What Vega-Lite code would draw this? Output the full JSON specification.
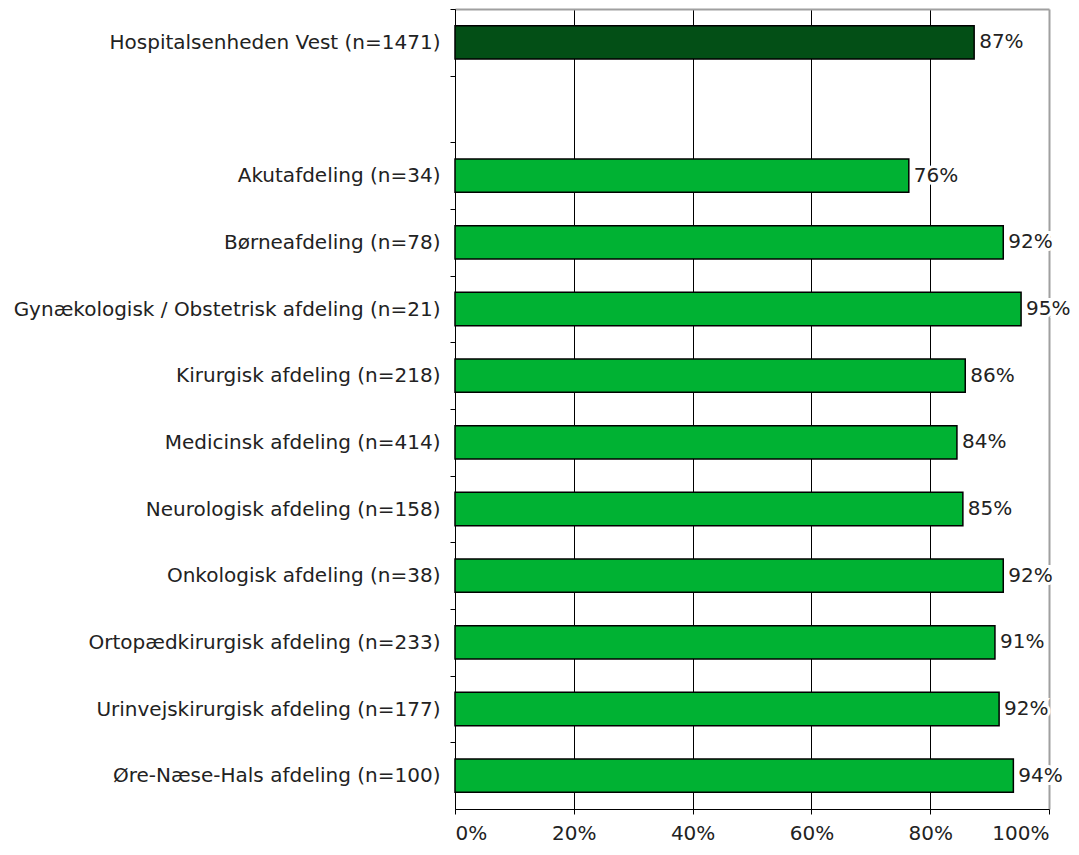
{
  "$schema": "https://vega.github.io/schema/vega-lite/v6.json",
  "width": 594,
  "height": 800,
  "autosize": "none",
  "padding": {"left": 455, "top": 9, "right": 30, "bottom": 46},
  "background": "white",
  "config": {"view": {"stroke": null}, "font": "DejaVu Sans"},
  "data": {
    "values": [
      {"name": "Hospitalsenheden Vest (n=1471)", "value": 0.874, "label": "87%", "group": "total"},
      {"name": "Akutafdeling (n=34)", "value": 0.764, "label": "76%", "group": "dept"},
      {"name": "Børneafdeling (n=78)", "value": 0.923, "label": "92%", "group": "dept"},
      {"name": "Gynækologisk / Obstetrisk afdeling (n=21)", "value": 0.953, "label": "95%", "group": "dept"},
      {"name": "Kirurgisk afdeling (n=218)", "value": 0.859, "label": "86%", "group": "dept"},
      {"name": "Medicinsk afdeling (n=414)", "value": 0.845, "label": "84%", "group": "dept"},
      {"name": "Neurologisk afdeling (n=158)", "value": 0.855, "label": "85%", "group": "dept"},
      {"name": "Onkologisk afdeling (n=38)", "value": 0.923, "label": "92%", "group": "dept"},
      {"name": "Ortopædkirurgisk afdeling (n=233)", "value": 0.909, "label": "91%", "group": "dept"},
      {"name": "Urinvejskirurgisk afdeling (n=177)", "value": 0.916, "label": "92%", "group": "dept"},
      {"name": "Øre-Næse-Hals afdeling (n=100)", "value": 0.940, "label": "94%", "group": "dept"}
    ]
  },
  "encoding": {
    "y": {
      "field": "name",
      "type": "nominal",
      "sort": null,
      "scale": {
        "domain": [
          "Hospitalsenheden Vest (n=1471)", "",
          "Akutafdeling (n=34)", "Børneafdeling (n=78)",
          "Gynækologisk / Obstetrisk afdeling (n=21)", "Kirurgisk afdeling (n=218)",
          "Medicinsk afdeling (n=414)", "Neurologisk afdeling (n=158)",
          "Onkologisk afdeling (n=38)", "Ortopædkirurgisk afdeling (n=233)",
          "Urinvejskirurgisk afdeling (n=177)", "Øre-Næse-Hals afdeling (n=100)"
        ],
        "paddingInner": 0.5,
        "paddingOuter": 0.25
      },
      "axis": {
        "orient": "left",
        "title": null,
        "labelFontSize": 20,
        "labelColor": "#222222",
        "labelPadding": 10,
        "labelLimit": 0,
        "labelOffset": 33.33,
        "tickOffset": -33.33,
        "tickSize": 5,
        "tickColor": "black",
        "domainColor": "black",
        "grid": false
      }
    }
  },
  "layer": [
    {
      "mark": {"type": "bar", "stroke": "black", "strokeWidth": 1.5},
      "encoding": {
        "x": {
          "field": "value",
          "type": "quantitative",
          "scale": {"domain": [0, 1], "nice": false},
          "axis": {
            "orient": "bottom",
            "title": null,
            "values": [0, 0.2, 0.4, 0.6, 0.8, 1],
            "format": ".0%",
            "labelFontSize": 20,
            "labelColor": "#222222",
            "labelPadding": 9,
            "tickSize": 5,
            "tickColor": "black",
            "domainColor": "black",
            "grid": true,
            "gridColor": {"condition": {"test": "datum.value >= 1", "value": "#a0a0a0"}, "value": "black"},
            "gridWidth": {"condition": {"test": "datum.value >= 1", "value": 2}, "value": 1},
            "gridOpacity": 1
          }
        },
        "color": {
          "field": "group",
          "type": "nominal",
          "scale": {"domain": ["total", "dept"], "range": ["#034f16", "#00b233"]},
          "legend": null
        }
      }
    },
    {
      "mark": {"type": "text", "align": "left", "baseline": "middle", "dx": 5, "fontSize": 20, "stroke": "white", "strokeWidth": 6, "fill": "white"},
      "encoding": {
        "x": {
          "field": "value",
          "type": "quantitative",
          "axis": {
            "orient": "top",
            "title": null,
            "labels": false,
            "ticks": false,
            "grid": false,
            "domainColor": "#a0a0a0",
            "domainWidth": 2
          }
        },
        "text": {"field": "label"}
      }
    },
    {
      "mark": {"type": "text", "align": "left", "baseline": "middle", "dx": 5, "fontSize": 20, "fill": "#222222"},
      "encoding": {
        "x": {"field": "value", "type": "quantitative", "axis": null},
        "text": {"field": "label"}
      }
    }
  ],
  "resolve": {"axis": {"x": "independent"}}
}
